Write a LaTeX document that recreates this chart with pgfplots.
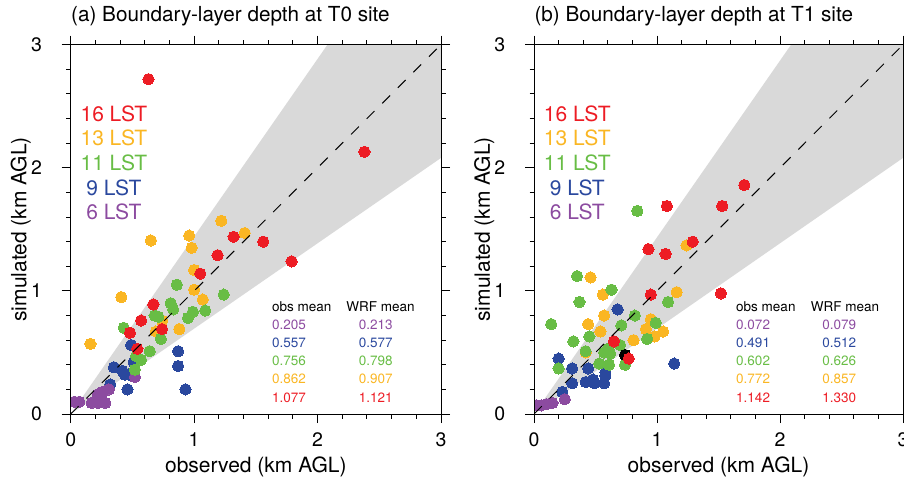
\documentclass[border=0pt]{standalone}
\usepackage{fontspec}
\setmainfont{TeX Gyre Heros}
\usepackage{pgfplots}
\pgfplotsset{compat=1.18}
\definecolor{cS}{RGB}{237,28,36}
\definecolor{cT}{RGB}{250,182,35}
\definecolor{cE}{RGB}{104,189,69}
\definecolor{cN}{RGB}{42,72,158}
\definecolor{cX}{RGB}{140,75,160}
\definecolor{shade}{RGB}{217,217,217}
\tikzset{
  leg/.style={text=#1, anchor=center, font=\fontsize{21}{25}\selectfont},
  tab/.style={text=#1, anchor=west, inner sep=0pt, font=\fontsize{13.5}{16}\selectfont},
}
\pgfplotsset{
  myax/.style={
    scale only axis, height=369.3pt,
    xmin=0, xmax=3, ymin=0, ymax=3,
    xtick={0,1,2,3}, ytick={0,1,2,3},
    minor x tick num=4, minor y tick num=4,
    xtick pos=both, ytick pos=both,
    xticklabel pos=lower, yticklabel pos=left,
    tick align=outside, major tick length=9pt, minor tick length=4.5pt,
    line width=1pt, tick style={black, line width=1pt},
    /pgf/number format/assume math mode=true,
    tick label style={font=\fontsize{19.5}{23}\selectfont},
    xticklabel style={yshift=-6pt},
    yticklabel style={xshift=-16pt},
    label style={font=\fontsize{21}{25}\selectfont},
    xlabel={observed (km AGL)}, ylabel={simulated (km AGL)},
    xlabel style={at={(axis description cs:0.5,-0.143)}, anchor=center},
    ylabel style={at={(axis description cs:-0.135,0.5)}, anchor=center},
    title style={at={(axis description cs:0,1)}, anchor=base west, yshift=17.4pt, inner sep=0pt, font=\fontsize{20.7}{25}\selectfont},
    axis on top, clip marker paths=true,
  },
  pt/.style={only marks, mark=*, mark size=5.65pt, mark options={draw=#1, fill=#1, line width=0pt}},
}
\begin{document}
\begin{tikzpicture}
\useasboundingbox (0,0) rectangle (904pt,477pt);
% ---------------- panel (a)
\begin{axis}[myax, width=370.3pt, at={(70.7pt,63pt)}, anchor=south west,
  title={(a) Boundary-layer depth at T0 site}]
\addplot[fill=shade, draw=none] coordinates {(0,0) (2.08,3) (3,3) (3,2.08)} -- cycle;
\addplot[pt=cN] coordinates {(0.87,0.51) (0.87,0.39) (0.93,0.20) (0.49,0.56) (0.51,0.42) (0.35,0.38) (0.42,0.35) (0.44,0.32) (0.32,0.24) (0.46,0.20) (0.47,0.32)};
\addplot[pt=cX] coordinates {(0.52,0.30) (0.31,0.20) (0.26,0.18) (0.22,0.16) (0.03,0.10) (0.07,0.10) (0.17,0.09) (0.22,0.09) (0.28,0.09)};
\addplot[pt=cT] coordinates {(1.22,1.57) (1.41,1.47) (0.96,1.45) (0.98,1.35) (0.65,1.41) (1.00,1.17) (1.00,1.01) (1.07,0.93) (0.41,0.95) (0.88,0.69) (0.16,0.57) (0.74,0.76) (0.69,0.67)};
\addplot[pt=cE] coordinates {(0.86,1.05) (1.24,0.97) (0.81,0.90) (0.83,0.85) (0.99,0.83) (1.09,0.84) (0.95,0.78) (0.68,0.80) (0.71,0.79) (0.43,0.70) (0.73,0.61) (0.64,0.51) (0.57,0.44) (0.53,0.47) (0.52,0.36)};
\addplot[pt=cS] coordinates {(0.63,2.72) (2.38,2.13) (1.32,1.44) (1.56,1.40) (1.19,1.29) (1.79,1.24) (1.05,1.14) (0.67,0.89) (0.57,0.76) (0.74,0.69) (0.48,0.66) (0.54,0.53)};
\addplot[black, line width=1pt, dash pattern=on 11pt off 11pt] coordinates {(0,0) (3,3)};
\node[leg=cS] at (axis cs:0.35,2.44) {16 LST};
\node[leg=cT] at (axis cs:0.35,2.24) {13 LST};
\node[leg=cE] at (axis cs:0.35,2.04) {11 LST};
\node[leg=cN] at (axis cs:0.35,1.84) {9 LST};
\node[leg=cX] at (axis cs:0.35,1.645) {6 LST};
\node[tab=black] at (axis cs:1.627,0.875) {obs mean};
\node[tab=black] at (axis cs:2.23,0.875) {WRF mean};
\node[tab=cX] at (axis cs:1.627,0.727) {0.205};
\node[tab=cX] at (axis cs:2.33,0.727) {0.213};
\node[tab=cN] at (axis cs:1.627,0.579) {0.557};
\node[tab=cN] at (axis cs:2.33,0.579) {0.577};
\node[tab=cE] at (axis cs:1.627,0.431) {0.756};
\node[tab=cE] at (axis cs:2.33,0.431) {0.798};
\node[tab=cT] at (axis cs:1.627,0.283) {0.862};
\node[tab=cT] at (axis cs:2.33,0.283) {0.907};
\node[tab=cS] at (axis cs:1.627,0.135) {1.077};
\node[tab=cS] at (axis cs:2.33,0.135) {1.121};
\end{axis}
% ---------------- panel (b)
\begin{axis}[myax, width=369pt, at={(534pt,63pt)}, anchor=south west,
  title={(b) Boundary-layer depth at T1 site}]
\addplot[fill=shade, draw=none] coordinates {(0,0) (2.09,3) (3,3) (3,2.08)} -- cycle;
\addplot[pt=cN] coordinates {(0.23,0.18) (0.20,0.45) (0.31,0.37) (0.31,0.25) (0.42,0.26) (0.44,0.37) (0.48,0.28) (0.49,0.25) (0.57,0.25) (0.58,0.34) (0.68,0.85) (1.14,0.41) (0.58,0.31)};
\addplot[pt=cX] coordinates {(0.02,0.07) (0.06,0.07) (0.10,0.08) (0.15,0.09) (0.25,0.12)};
\addplot[pt=cT] coordinates {(1.24,1.37) (1.16,0.99) (0.95,0.77) (0.91,0.69) (0.98,0.63) (1.05,0.67) (0.81,0.60) (0.57,0.80) (0.44,0.73) (0.54,0.67) (0.56,0.97) (0.46,1.11) (0.42,0.50)};
\addplot[pt=cE] coordinates {(0.84,1.65) (1.09,0.91) (0.99,0.74) (0.92,0.61) (0.82,0.80) (0.71,0.72) (0.35,1.12) (0.63,1.01) (0.37,0.91) (0.14,0.73) (0.32,0.59) (0.20,0.37) (0.45,0.63) (0.42,0.51) (0.53,0.41) (0.60,0.53) (0.62,0.49) (0.61,0.40) (0.70,0.56) (0.74,0.40) (0.57,0.50)};
\addplot[pt=black] coordinates {(0.74,0.48)};
\addplot[pt=cS] coordinates {(1.71,1.86) (1.53,1.69) (1.08,1.69) (1.29,1.40) (0.93,1.34) (1.07,1.30) (1.52,0.98) (0.95,0.97) (0.65,0.59) (0.77,0.45)};
\addplot[black, line width=1pt, dash pattern=on 11pt off 11pt] coordinates {(0,0) (3,3)};
\node[leg=cS] at (axis cs:0.352,2.44) {16 LST};
\node[leg=cT] at (axis cs:0.352,2.24) {13 LST};
\node[leg=cE] at (axis cs:0.352,2.04) {11 LST};
\node[leg=cN] at (axis cs:0.352,1.84) {9 LST};
\node[leg=cX] at (axis cs:0.352,1.645) {6 LST};
\node[tab=black] at (axis cs:1.64,0.875) {obs mean};
\node[tab=black] at (axis cs:2.246,0.875) {WRF mean};
\node[tab=cX] at (axis cs:1.64,0.727) {0.072};
\node[tab=cX] at (axis cs:2.34,0.727) {0.079};
\node[tab=cN] at (axis cs:1.64,0.579) {0.491};
\node[tab=cN] at (axis cs:2.34,0.579) {0.512};
\node[tab=cE] at (axis cs:1.64,0.431) {0.602};
\node[tab=cE] at (axis cs:2.34,0.431) {0.626};
\node[tab=cT] at (axis cs:1.64,0.283) {0.772};
\node[tab=cT] at (axis cs:2.34,0.283) {0.857};
\node[tab=cS] at (axis cs:1.64,0.135) {1.142};
\node[tab=cS] at (axis cs:2.34,0.135) {1.330};
\end{axis}
\end{tikzpicture}
\end{document}
